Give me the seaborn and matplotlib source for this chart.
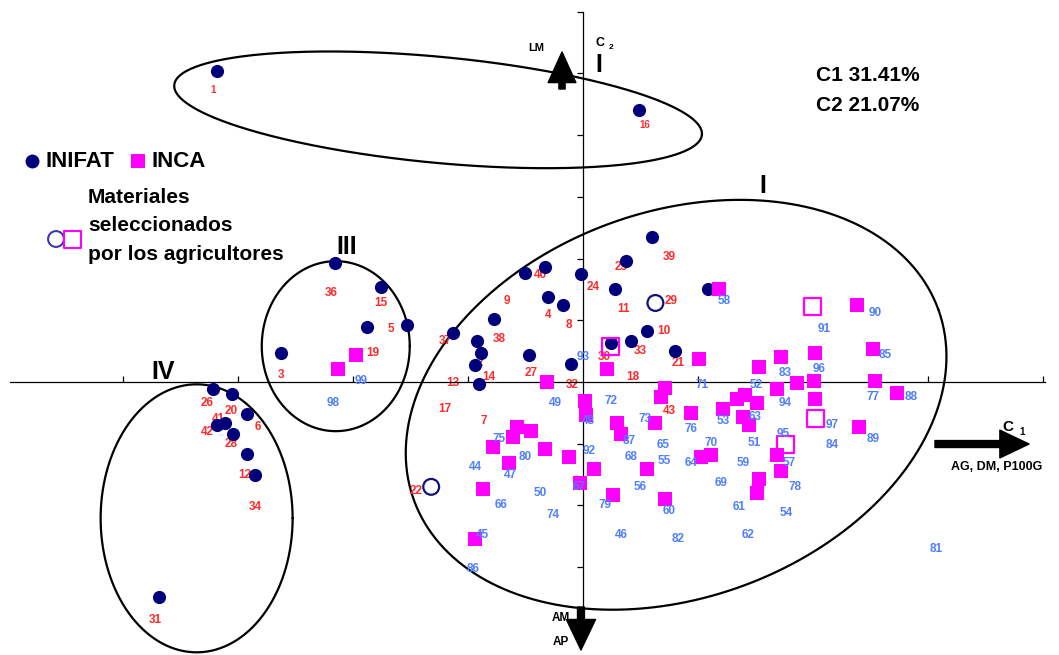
import numpy as np
import seaborn as sns
import matplotlib.pyplot as plt

sns.set_style("white")
plt.rcParams['font.family'] = ['Liberation Sans', 'DejaVu Sans']
plt.rcParams['font.weight'] = 'bold'
plt.rcParams['text.color'] = 'black'

# component scores (C1, C2) of the accessions
inifat_x = [-3.18, 0.49, 0.60, 0.37, -0.02, -0.33, -0.50, 0.28, -0.30, -0.17, -0.77, -1.13, -1.53,
            -0.92, -0.89, -0.94, -0.90, -0.47, -0.10, 0.24, 0.42, 0.56, 0.80, 1.09, -2.16, -1.76,
            -1.88, -2.63, -3.22, -3.05, -2.92, -3.18, -3.11, -3.04, -2.92, -2.85, -3.69]
inifat_y = [5.04, 4.41, 2.35, 1.96, 1.75, 1.86, 1.77, 1.51, 1.38, 1.25, 1.02, 0.79, 0.92,
            0.66, 0.47, 0.28, -0.03, 0.44, 0.29, 0.63, 0.66, 0.83, 0.50, 1.51, 1.93, 1.54,
            0.89, 0.47, -0.11, -0.19, -0.52, -0.70, -0.66, -0.84, -1.17, -1.51, -3.48]

inca_x = [1.18, 2.38, 2.52, 1.01, 1.53, 1.72, 2.02, 1.86, 2.01, 2.54, 1.69, 2.73, 2.02, 1.41,
          1.34, 1.51, 1.22, 1.39, 1.44, 0.94, 0.71, 0.68, 0.21, -0.31, 0.02, 0.03, 0.30, 0.33,
          0.63, -0.12, 0.10, 0.56, -0.03, 0.26, 0.71, 1.03, 1.11, 1.69, 1.72, 1.53, 1.51, 2.40,
          -0.57, -0.61, -0.45, -0.78, -0.64, -0.33, -0.87, -0.94, -1.97, -2.13]
inca_y = [1.51, 1.25, 0.53, 0.37, 0.24, 0.41, 0.47, -0.02, 0.02, 0.02, -0.11, -0.18, -0.28, -0.21,
          -0.28, -0.34, -0.44, -0.57, -0.70, -0.50, -0.10, -0.24, 0.21, 0.00, -0.31, -0.53, -0.66, -0.84,
          -0.66, -1.22, -1.41, -1.41, -1.64, -1.83, -1.90, -1.22, -1.18, -1.18, -1.44, -1.57, -1.80, -0.73,
          -0.73, -0.89, -0.79, -1.05, -1.31, -1.09, -1.73, -2.54, 0.44, 0.21]

# materials chosen by the farmers
sel_inifat_x = [0.63, -1.32]
sel_inifat_y = [1.28, -1.70]
sel_inca_x = [0.24, 2.00, 2.02, 1.76]
sel_inca_y = [0.57, 1.22, -0.60, -1.02]

# accession numbers
inifat_ids = ["1", "16", "39", "23", "40", "24", "9", "11", "29", "4", "8", "10", "37", "38", "33",
              "30", "21", "2", "27", "13", "14", "18", "32", "17", "7", "43", "22", "36", "15", "5",
              "19", "3", "26", "20", "41", "42", "6", "28", "12", "34", "31"]
inifat_lx = [-3.22, 0.54, 0.75, 0.33, -0.37, 0.09, -0.66, 0.35, 0.77, -0.30, -0.12, 0.70, -1.20, -0.73, 0.50,
             0.19, 0.83, -0.90, -0.45, -1.13, -0.82, 0.43, -0.09, -1.20, -0.86, 0.75, -1.45, -2.19, -1.76, -1.67,
             -1.83, -2.63, -3.27, -3.06, -3.17, -3.27, -2.83, -3.06, -2.94, -2.85, -3.72]
inifat_ly = [4.73, 4.17, 2.03, 1.86, 1.73, 1.54, 1.31, 1.18, 1.31, 1.09, 0.92, 0.83, 0.66, 0.70, 0.50,
             0.41, 0.31, 0.31, 0.15, -0.02, 0.08, 0.08, -0.05, -0.44, -0.63, -0.47, -1.77, 1.44, 1.28, 0.86,
             0.47, 0.11, -0.34, -0.47, -0.60, -0.81, -0.73, -1.00, -1.51, -2.03, -3.86]

inca_ids = ["58", "90", "91", "85", "83", "96", "71", "52", "77", "88", "94", "53", "63", "76", "97",
            "95", "70", "51", "84", "89", "64", "59", "57", "69", "78", "61", "54", "62", "82", "81",
            "60", "56", "55", "68", "65", "87", "73", "72", "49", "48", "92", "75", "80", "44", "47",
            "67", "50", "79", "66", "74", "46", "45", "86", "93", "99", "98"]
inca_lx = [1.23, 2.54, 2.10, 2.63, 1.76, 2.05, 1.04, 1.51, 2.52, 2.85, 1.76, 1.22, 1.50, 0.94, 2.17,
           1.74, 1.11, 1.49, 2.17, 2.52, 0.94, 1.39, 1.79, 1.20, 1.84, 1.36, 1.77, 1.44, 0.83, 3.07,
           0.75, 0.50, 0.71, 0.42, 0.70, 0.40, 0.54, 0.24, -0.24, 0.05, 0.05, -0.73, -0.50, -0.94, -0.63,
           -0.03, -0.37, 0.19, -0.71, -0.26, 0.33, -0.87, -0.96, 0.00, -1.93, -2.17]
inca_ly = [1.31, 1.12, 0.86, 0.44, 0.15, 0.21, -0.05, -0.05, -0.24, -0.24, -0.34, -0.63, -0.57, -0.76, -0.70,
           -0.84, -0.99, -0.99, -1.02, -0.92, -1.31, -1.31, -1.31, -1.64, -1.70, -2.03, -2.12, -2.48, -2.54, -2.71,
           -2.09, -1.70, -1.28, -1.22, -1.02, -0.96, -0.60, -0.31, -0.34, -0.63, -1.12, -0.92, -1.22, -1.38, -1.51,
           -1.70, -1.80, -1.99, -1.99, -2.16, -2.48, -2.48, -3.03, 0.41, 0.02, -0.34]

navy = "#00007a"
magenta = "#ff00ff"
red = "#ff2a2a"
blue = "#4f7fff"

fig = plt.figure(figsize=(10.59, 6.55), dpi=100)
ax = fig.add_axes([0, 0, 1, 1])
xmin, xmax = -5.07, 4.14
ymin, ymax = -4.425, 6.19
ax.set_xlim(xmin, xmax)
ax.set_ylim(ymin, ymax)
px_x = 1059 / (xmax - xmin)
px_y = 655 / (ymax - ymin)

# axes through the origin
for s in ["top", "right"]:
    ax.spines[s].set_visible(False)
for s in ["left", "bottom"]:
    ax.spines[s].set_position(("data", 0))
    ax.spines[s].set_color("black")
    ax.spines[s].set_linewidth(0.9)
ax.spines["left"].set_bounds(-3.65, 6)
ax.spines["bottom"].set_bounds(-4.98, 4.02)
ax.set_xticks([-4, -3, -2, -1, 1, 2, 3, 4])
ax.set_yticks([-3, -2, -1, 1, 2, 3, 4, 5, 6])
ax.tick_params(axis="x", direction="in", length=4, width=0.9, color="black", labelbottom=False, bottom=True)
ax.tick_params(axis="y", direction="out", length=4, width=0.9, color="black", labelleft=False, left=True)


def outline(cx, cy, a, b, ang=0.0):
    # ellipse given in screen pixels around a centre in score units
    t = np.linspace(0, 2 * np.pi, 400)
    u, v = a * np.cos(t), b * np.sin(t)
    r = np.deg2rad(ang)
    dx = u * np.cos(r) - v * np.sin(r)
    dy = u * np.sin(r) + v * np.cos(r)
    ax.plot(cx + dx / px_x, cy + dy / px_y, color="black", lw=1.6, zorder=1)


outline(-1.26, 4.41, 265, 53, -5.4)
outline(0.81, -0.37, 279, 193, 20)
outline(-2.15, 0.58, 74, 85)
outline(-3.36, -2.21, 96, 134)

# accession numbers
for t, x, y in zip(inifat_ids, inifat_lx, inifat_ly):
    ax.text(x, y, t, color=red, fontsize=7 if t in ("1", "16") else 8.5, fontweight="bold",
            ha="center", va="center", zorder=2)

sns.scatterplot(x=inifat_x, y=inifat_y, marker="o", s=90, color=navy, linewidth=0, ax=ax, zorder=3)
sns.scatterplot(x=inca_x, y=inca_y, marker="s", s=90, color=magenta, linewidth=0, ax=ax, zorder=4)
ax.scatter(sel_inifat_x, sel_inifat_y, marker="o", s=130, facecolors="none", edgecolors="#101080",
           linewidths=1.6, zorder=4)
ax.scatter(sel_inca_x, sel_inca_y, marker="s", s=150, facecolors="none", edgecolors=magenta,
           linewidths=1.6, zorder=4)

for t, x, y in zip(inca_ids, inca_lx, inca_ly):
    ax.text(x, y, t, color=blue, fontsize=8.5, fontweight="bold", ha="center", va="center", zorder=5)

# direction arrows
def arrow(tail, tip, hl, hw, tw):
    ax.annotate("", xy=tip, xytext=tail, xycoords="axes fraction", textcoords="axes fraction",
                arrowprops=dict(arrowstyle=f"simple,head_length={hl},head_width={hw},tail_width={tw}",
                                color="black", mutation_scale=1, shrinkA=0, shrinkB=0), zorder=6)


arrow((0.5307, 0.8641), (0.5307, 0.9206), 22, 20, 4.5)
arrow((0.5486, 0.0733), (0.5486, 0.0076), 22, 21, 5)
arrow((0.8829, 0.3221), (0.9717, 0.3221), 21, 20, 5)

tr = ax.transAxes
ax.text(0.506, 0.927, "LM", transform=tr, fontsize=8, fontweight="bold", ha="center", va="center")
ax.text(0.5666, 0.934, "C", transform=tr, fontsize=9, fontweight="bold", ha="center", va="center")
ax.text(0.577, 0.927, "2", transform=tr, fontsize=6, fontweight="bold", ha="center", va="center")
ax.text(0.9518, 0.3481, "C", transform=tr, fontsize=11, fontweight="bold", ha="center", va="center")
ax.text(0.965, 0.3405, "1", transform=tr, fontsize=7, fontweight="bold", ha="center", va="center")
ax.text(0.9415, 0.287, "AG, DM, P100G", transform=tr, fontsize=9, fontweight="bold", ha="center", va="center")
ax.text(0.5297, 0.0565, "AM", transform=tr, fontsize=8.5, fontweight="bold", ha="center", va="center", zorder=7)
ax.text(0.5297, 0.0198, "AP", transform=tr, fontsize=8.5, fontweight="bold", ha="center", va="center", zorder=7)

# group names
for t, x, y in [("I", 0.5656, 0.9008), ("I", 0.7205, 0.716), ("III", 0.3277, 0.6229), ("IV", 0.1539, 0.4321)]:
    ax.text(x, y, t, transform=tr, fontsize=18, fontweight="bold", ha="center", va="center")

ax.text(0.7705, 0.884, "C1 31.41%", transform=tr, fontsize=15, fontweight="bold", ha="left", va="center")
ax.text(0.7705, 0.8382, "C2 21.07%", transform=tr, fontsize=15, fontweight="bold", ha="left", va="center")

# legend
ax.scatter([0.0302], [0.754], transform=tr, marker="o", s=100, color=navy, linewidths=0, clip_on=False)
ax.text(0.0425, 0.754, "INIFAT", transform=tr, fontsize=16, fontweight="bold", ha="left", va="center")
ax.scatter([0.1303], [0.754], transform=tr, marker="s", s=90, color=magenta, linewidths=0, clip_on=False)
ax.text(0.1435, 0.754, "INCA", transform=tr, fontsize=16, fontweight="bold", ha="left", va="center")
ax.scatter([0.0529], [0.6351], transform=tr, marker="o", s=130, facecolors="none", edgecolors="#3a3aa8",
           linewidths=1.5, clip_on=False)
ax.scatter([0.068], [0.6351], transform=tr, marker="s", s=150, facecolors="none", edgecolors=magenta,
           linewidths=1.5, clip_on=False)
for t, y in [("Materiales", 0.6992), ("seleccionados", 0.655), ("por los agricultores", 0.6107)]:
    ax.text(0.0831, y, t, transform=tr, fontsize=15, fontweight="bold", ha="left", va="center")

fig.savefig("out.png", dpi=100, facecolor="white")
